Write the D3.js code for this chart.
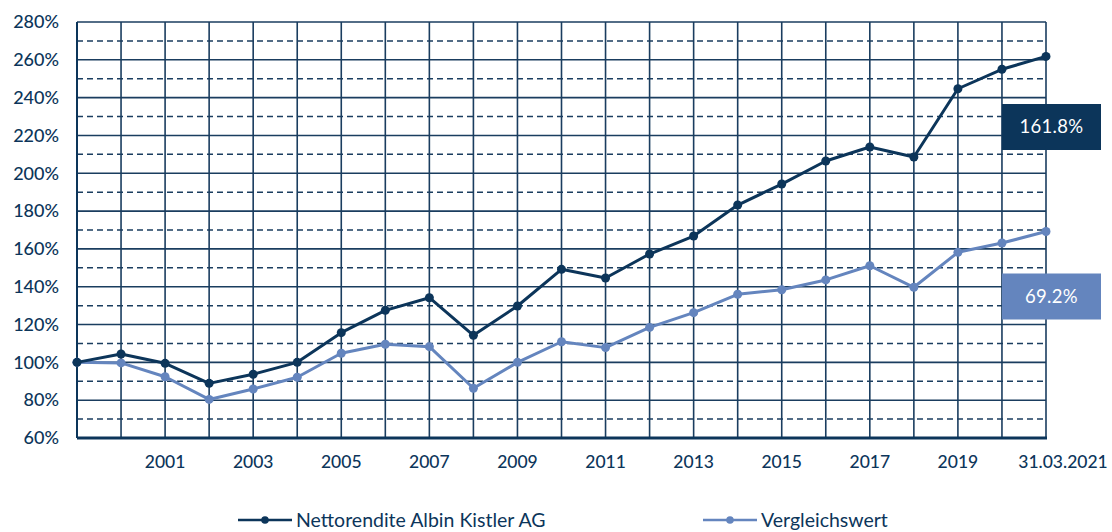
<!DOCTYPE html>
<html><head><meta charset="utf-8">
<script src="https://cdn.jsdelivr.net/npm/d3@7"></script>
<style>html,body{margin:0;padding:0;background:#fff;}svg{display:block;}</style>
</head><body>
<svg id="chart" width="1112" height="532"></svg>
<script>
const years = d3.range(1999, 2022);
const xTickYears = [2001, 2003, 2005, 2007, 2009, 2011, 2013, 2015, 2017, 2019, 2021];
const xTickLabels = ["2001","2003","2005","2007","2009","2011","2013","2015","2017","2019","31.03.2021"];
const yTicks = [60,80,100,120,140,160,180,200,220,240,260,280];
const netto = [100,104.4,99.5,88.9,93.7,100,115.7,127.5,134.2,114.3,129.8,149.2,144.6,157.3,166.8,183.2,194.3,206.5,213.9,208.6,244.7,255,261.8];
const vergleich = [100,99.7,92.4,80.4,85.9,92.1,104.8,109.6,108.3,86.3,100,110.9,107.8,118.5,126.3,136,138.4,143.6,151.1,139.7,158.2,163.1,169.2];
const seriesNames = ["Nettorendite Albin Kistler AG","Vergleichswert"];
const endLabels = ["161.8%","69.2%"];

const dark = "#0c355a", light = "#6485be", grid = "#1a3d5f";
const font = "Lato, 'Noto Sans', sans-serif";
const svg = d3.select("#chart");
const L=77,R=1046,T=22,B=438;
const x = d3.scaleLinear().domain([1999,2021]).range([L,R]);
const y = d3.scaleLinear().domain([60,280]).range([B,T]);

const g = svg.append("g");
// horizontal grid
const hvals = d3.range(60, 281, 10);
g.selectAll("line.h").data(hvals).join("line")
  .attr("x1",L).attr("x2",R).attr("y1",d=>y(d)).attr("y2",d=>y(d))
  .attr("stroke",grid).attr("stroke-width",d=>d%20===0?1.6:1.5)
  .attr("stroke-dasharray",d=>d%20===0?null:"6,4");
// vertical grid
g.selectAll("line.v").data(years).join("line")
  .attr("x1",d=>x(d)).attr("x2",d=>x(d)).attr("y1",T).attr("y2",B)
  .attr("stroke",grid).attr("stroke-width",1.6);
// axes borders
g.append("line").attr("x1",L).attr("x2",R+1).attr("y1",B).attr("y2",B).attr("stroke",dark).attr("stroke-width",3);
g.append("line").attr("x1",L).attr("x2",L).attr("y1",T).attr("y2",B).attr("stroke",dark).attr("stroke-width",2);

// y labels
svg.selectAll("text.yl").data(yTicks).join("text")
  .attr("x",59).attr("y",d=>y(d)).attr("dy","0.35em").attr("text-anchor","end")
  .attr("font-family",font).attr("font-size",18).attr("font-weight",500).attr("fill",dark)
  .text(d=>d+"%");
// x labels
svg.selectAll("text.xl").data(xTickYears).join("text")
  .attr("x",(d,i)=>x(d)+(i===xTickYears.length-1?17:0)).attr("y",462).attr("dy","0.35em").attr("text-anchor","middle")
  .attr("font-family",font).attr("font-size",17.5).attr("font-weight",500).attr("fill",dark)
  .text((d,i)=>xTickLabels[i]);

const line = d3.line().x((d,i)=>x(years[i])).y(d=>y(d));
[[vergleich,light],[netto,dark]].forEach(([data,col])=>{
  svg.append("path").datum(data).attr("d",line).attr("fill","none").attr("stroke",col).attr("stroke-width",3).attr("stroke-linejoin","round");
  svg.append("g").selectAll("circle").data(data).join("circle")
    .attr("cx",(d,i)=>x(years[i])).attr("cy",d=>y(d)).attr("r",4.5).attr("fill",col);
});

// end label boxes
const boxes = [{col:dark, yc:127},{col:light, yc:296.5}];
boxes.forEach((b,i)=>{
  svg.append("rect").attr("x",1002).attr("y",b.yc-23).attr("width",99).attr("height",46).attr("fill",b.col);
  svg.append("text").attr("x",1051.5).attr("y",b.yc).attr("dy","0.35em").attr("text-anchor","middle")
    .attr("font-family",font).attr("font-size",18.5).attr("letter-spacing",0.3).attr("fill","#fff").text(endLabels[i]);
});

// legend
const leg = [{x:238,col:dark},{x:703,col:light}];
leg.forEach((l,i)=>{
  const gg = svg.append("g").attr("transform",`translate(${l.x},520)`);
  gg.append("line").attr("x1",0).attr("x2",54).attr("y1",0).attr("y2",0).attr("stroke",l.col).attr("stroke-width",2.6);
  gg.append("circle").attr("cx",27).attr("cy",0).attr("r",3.8).attr("fill",l.col);
  gg.append("text").attr("x",58).attr("y",0).attr("dy","0.35em").attr("font-family",font).attr("font-size",19.5).attr("fill",dark).text(seriesNames[i]);
});
</script>
</body></html>
